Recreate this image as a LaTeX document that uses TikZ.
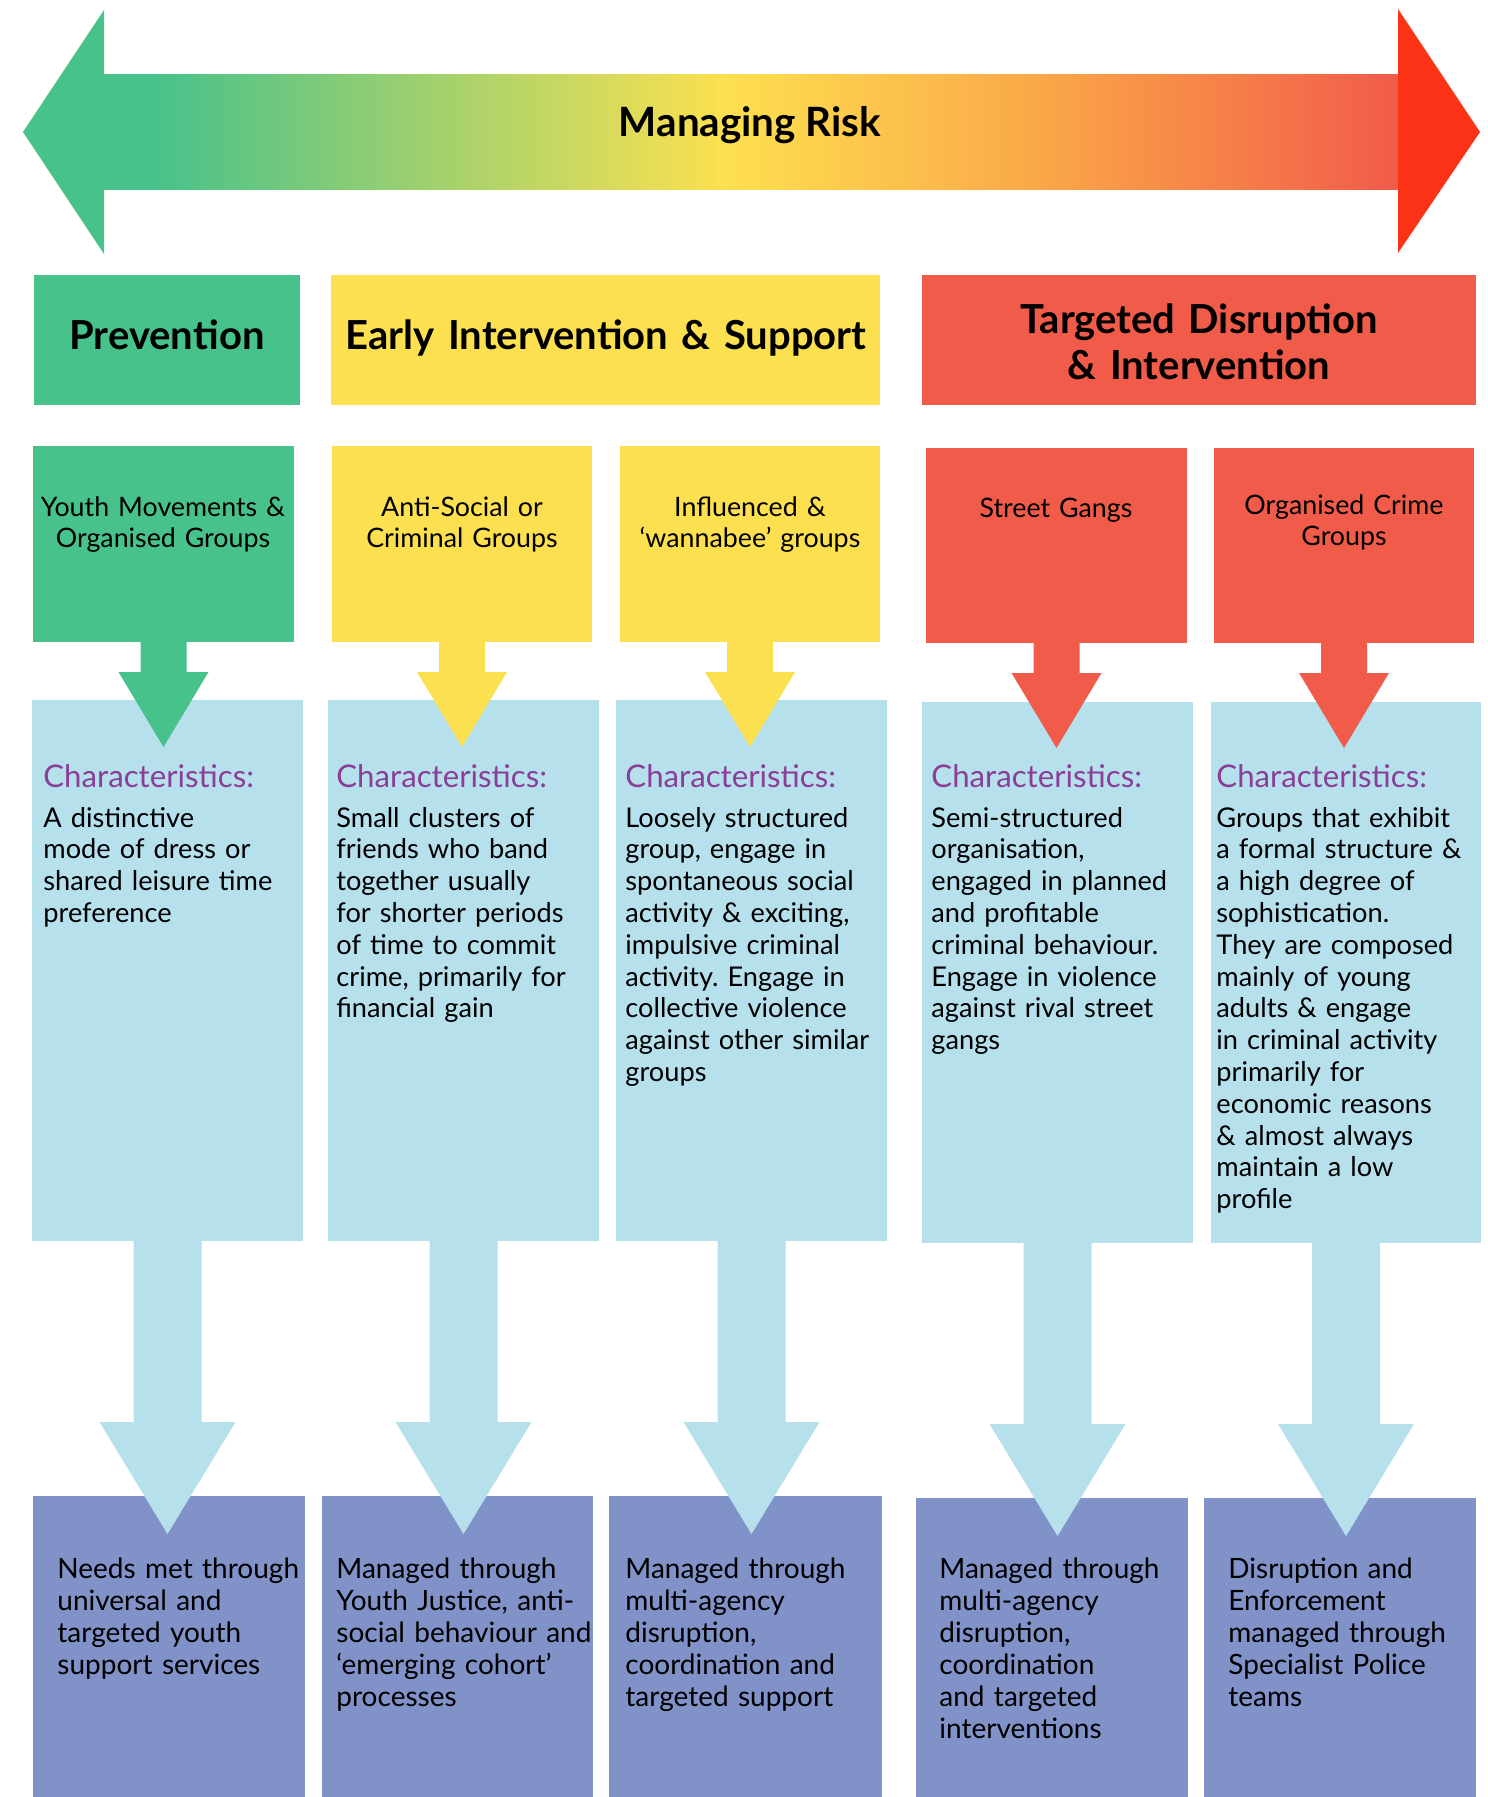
\documentclass[tikz,border=0pt]{standalone}
\usepackage{fontspec}
\setmainfont{Lato}
\usepackage{xcolor}
\usetikzlibrary{fit,calc,positioning}
\frenchspacing

\definecolor{prevgreen}{RGB}{72,194,139}
\definecolor{earlyyellow}{RGB}{253,224,79}
\definecolor{targetred}{RGB}{241,91,74}
\definecolor{tipred}{RGB}{252,50,22}
\definecolor{riskorange}{RGB}{250,168,72}
\definecolor{charblue}{RGB}{181,224,236}
\definecolor{managepurple}{RGB}{128,146,199}
\definecolor{charpurple}{RGB}{138,62,151}

\pgfdeclarehorizontalshading{riskbar}{100bp}{color(0bp)=(prevgreen); color(27bp)=(prevgreen); color(49bp)=(earlyyellow); color(61bp)=(riskorange); color(75bp)=(targetred); color(100bp)=(targetred)}

% block arrow pointing down: anchor, colour, shaft half width, shaft length, head half width, head length
\newcommand{\blockdown}[6]{%
  \fill[#2] (#1) ++(-#3,0) -- ++(0,#4) -- ++(#3-#5,0) -- ++(#5,#6) -- ++(#5,-#6) -- ++(#3-#5,0) -- ++(0,-#4) -- cycle;}

\begin{document}
\begin{tikzpicture}[x=0.5pt,y=-0.5pt,
    box/.style={inner sep=0pt,outer sep=0pt,draw=none},
    risktext/.style={font=\fontsize{20.2}{23}\selectfont\bfseries,anchor=base},
    headtext/.style={font=\fontsize{20}{23}\selectfont\bfseries,anchor=base,align=center,text width=270pt,inner sep=0pt},
    grouptext/.style={font=\fontsize{13.4}{15.6}\selectfont,anchor=base,align=center,text width=132pt,inner sep=0pt},
    chartitle/.style={font=\fontsize{15.6}{18}\selectfont,text=charpurple,anchor=base west,inner sep=0pt},
    chartext/.style={font=\fontsize{13.6}{15.9}\selectfont,anchor=base west,align=left,text width=140pt,inner sep=0pt},
    managetext/.style={font=\fontsize{14}{16}\selectfont,anchor=base west,align=left,text width=140pt,inner sep=0pt}]

\useasboundingbox (0,0) rectangle (1487,1797);

% scale arrow
\shade[shading=riskbar] (103,75) rectangle (1399,190);
\fill[prevgreen] (23,132) -- (104,10) -- (104,254) -- cycle;
\fill[tipred] (1480,132) -- (1398,9) -- (1398,253) -- cycle;
\node[risktext] (risk) at (750,137) {Managing Risk};

% headers
\node[box,fill=prevgreen,fit={(34,275) (300,405)}] (prev) {};
\node[box,fill=earlyyellow,fit={(331,275) (880,405)}] (early) {};
\node[box,fill=targetred,fit={(922,275) (1476,405)}] (target) {};
\node[headtext] (prevlabel) at (167,350) {Prevention};
\node[headtext] (earlylabel) at (606,350) {Early Intervention \& Support};
\node[headtext] (targetlabel) at (1199,334) {Targeted Disruption\\\& Intervention};

% groups
\node[box,fill=prevgreen,fit={(33,446) (294,642)}] (g1) {};
\node[box,fill=earlyyellow,fit={(332,446) (592,642)}] (g2) {};
\node[box,fill=earlyyellow,fit={(620,446) (880,642)}] (g3) {};
\node[box,fill=targetred,fit={(926,448) (1187,643)}] (g4) {};
\node[box,fill=targetred,fit={(1214,448) (1474,643)}] (g5) {};
\node[grouptext] (g1label) at (163,516) {Youth Movements \&\\Organised Groups};
\node[grouptext] (g2label) at (462,516) {Anti-Social or\\Criminal Groups};
\node[grouptext] (g3label) at (750,516) {Influenced \&\\‘wannabee’ groups};
\node[grouptext] (g4label) at (1056,517) {Street Gangs};
\node[grouptext] (g5label) at (1344,514) {Organised Crime\\Groups};

% characteristics
\node[box,fill=charblue,fit={(32,700) (303,1241)}] (c1) {};
\node[box,fill=charblue,fit={(328,700) (599,1241)}] (c2) {};
\node[box,fill=charblue,fit={(616,700) (887,1241)}] (c3) {};
\node[box,fill=charblue,fit={(922,702) (1193,1243)}] (c4) {};
\node[box,fill=charblue,fit={(1211,702) (1481,1243)}] (c5) {};

\blockdown{g1.south}{prevgreen}{23}{30}{45}{75}
\blockdown{g2.south}{earlyyellow}{23}{30}{45}{75}
\blockdown{g3.south}{earlyyellow}{23}{30}{45}{75}
\blockdown{g4.south}{targetred}{23}{30}{45}{75}
\blockdown{g5.south}{targetred}{23}{30}{45}{75}

\node[chartitle] (c1title) at (43,787) {Characteristics:};
\node[chartitle] (c2title) at (336,787) {Characteristics:};
\node[chartitle] (c3title) at (625,787) {Characteristics:};
\node[chartitle] (c4title) at (931,787) {Characteristics:};
\node[chartitle] (c5title) at (1216,787) {Characteristics:};
\node[chartext] (c1text) at (43,827) {A distinctive\\mode of dress or\\shared leisure time\\preference};
\node[chartext] (c2text) at (336,827) {Small clusters of\\friends who band\\together usually\\for shorter periods\\of time to commit\\crime, primarily for\\financial gain};
\node[chartext] (c3text) at (625,827) {Loosely structured\\group, engage in\\spontaneous social\\activity \& exciting,\\impulsive criminal\\activity. Engage in\\collective violence\\against other similar\\groups};
\node[chartext] (c4text) at (931,827) {Semi-structured\\organisation,\\engaged in planned\\and profitable\\criminal behaviour.\\Engage in violence\\against rival street\\gangs};
\node[chartext] (c5text) at (1216,827) {Groups that exhibit\\a formal structure \&\\a high degree of\\sophistication.\\They are composed\\mainly of young\\adults \& engage\\in criminal activity\\primarily for\\economic reasons\\\& almost always\\maintain a low\\profile};

% management
\node[box,fill=managepurple,fit={(33,1496) (305,1797)}] (m1) {};
\node[box,fill=managepurple,fit={(322,1496) (593,1797)}] (m2) {};
\node[box,fill=managepurple,fit={(609,1496) (882,1797)}] (m3) {};
\node[box,fill=managepurple,fit={(916,1498) (1188,1797)}] (m4) {};
\node[box,fill=managepurple,fit={(1204,1498) (1476,1797)}] (m5) {};

\blockdown{c1.south}{charblue}{34}{181}{68}{112}
\blockdown{c2.south}{charblue}{34}{181}{68}{112}
\blockdown{c3.south}{charblue}{34}{181}{68}{112}
\blockdown{c4.south}{charblue}{34}{181}{68}{112}
\blockdown{c5.south}{charblue}{34}{181}{68}{112}

\node[managetext] (m1text) at (57,1578) {Needs met through\\universal and\\targeted youth\\support services};
\node[managetext] (m2text) at (336,1578) {Managed through\\Youth Justice, anti-\\social behaviour and\\‘emerging cohort’\\processes};
\node[managetext] (m3text) at (625,1578) {Managed through\\multi-agency\\disruption,\\coordination and\\targeted support};
\node[managetext] (m4text) at (939,1578) {Managed through\\multi-agency\\disruption,\\coordination\\and targeted\\interventions};
\node[managetext] (m5text) at (1228,1578) {Disruption and\\Enforcement\\managed through\\Specialist Police\\teams};
\end{tikzpicture}
\end{document}
